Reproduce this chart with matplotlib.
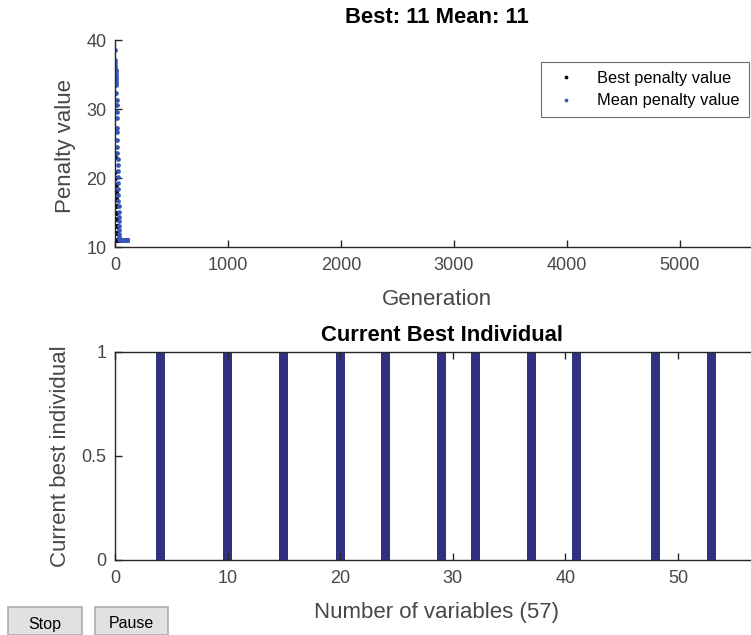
import matplotlib.pyplot as plt
from matplotlib.patches import Rectangle

plt.rcParams['font.family'] = ['Liberation Sans', 'DejaVu Sans']

# Penalty values per generation (best and population mean)
generations = list(range(0, 111))
best_penalty = [
    23.0, 20.9, 20.0, 20.0, 19.0, 19.0, 18.0, 18.0, 17.0, 17.0,
    16.0, 16.0, 15.0, 15.0, 14.0, 14.0, 13.0, 13.0, 13.0, 12.0,
    12.0, 12.0, 11.0, 11.0, 11.0, 11.0, 11.0, 11.0, 11.0, 11.0,
    11.0, 11.0, 11.0, 11.0, 11.0, 11.0, 11.0, 11.0, 11.0, 11.0,
    11.0, 11.0, 11.0, 11.0, 11.0, 11.0, 11.0, 11.0, 11.0, 11.0,
    11.0, 11.0, 11.0, 11.0, 11.0, 11.0, 11.0, 11.0, 11.0, 11.0,
    11.0, 11.0, 11.0, 11.0, 11.0, 11.0, 11.0, 11.0, 11.0, 11.0,
    11.0, 11.0, 11.0, 11.0, 11.0, 11.0, 11.0, 11.0, 11.0, 11.0,
    11.0, 11.0, 11.0, 11.0, 11.0, 11.0, 11.0, 11.0, 11.0, 11.0,
    11.0, 11.0, 11.0, 11.0, 11.0, 11.0, 11.0, 11.0, 11.0, 11.0,
    11.0, 11.0, 11.0, 11.0, 11.0, 11.0, 11.0, 11.0, 11.0, 11.0,
    11.0,
]
mean_penalty = [
    38.5, 37.1, 36.6, 36.2, 35.9, 35.6, 35.3, 35.0, 34.6, 34.3,
    34.0, 33.7, 33.5, 32.3, 31.3, 30.6, 29.6, 28.7, 27.2, 26.7,
    25.5, 24.5, 23.6, 22.7, 21.9, 21.0, 20.1, 19.3, 18.4, 17.6,
    16.7, 15.9, 15.1, 14.4, 13.7, 13.0, 12.4, 11.9, 11.5, 11.2,
    11.1, 11.0, 11.0, 11.0, 11.0, 11.0, 11.0, 11.0, 11.0, 11.0,
    11.0, 11.0, 11.0, 11.0, 11.0, 11.0, 11.0, 11.0, 11.0, 11.0,
    11.0, 11.0, 11.0, 11.0, 11.0, 11.0, 11.0, 11.0, 11.0, 11.0,
    11.0, 11.0, 11.0, 11.0, 11.0, 11.0, 11.0, 11.0, 11.0, 11.0,
    11.0, 11.0, 11.0, 11.0, 11.0, 11.0, 11.0, 11.0, 11.0, 11.0,
    11.0, 11.0, 11.0, 11.0, 11.0, 11.0, 11.0, 11.0, 11.0, 11.0,
    11.0, 11.0, 11.0, 11.0, 11.0, 11.0, 11.0, 11.0, 11.0, 11.0,
    11.0,
]

# Current best individual (57 binary variables)
variables = list(range(1, 58))
best_individual = [
    0, 0, 0, 1, 0, 0, 0, 0, 0, 1,
    0, 0, 0, 0, 1, 0, 0, 0, 0, 1,
    0, 0, 0, 1, 0, 0, 0, 0, 1, 0,
    0, 1, 0, 0, 0, 0, 1, 0, 0, 0,
    1, 0, 0, 0, 0, 0, 0, 1, 0, 0,
    0, 0, 1, 0, 0, 0, 0,
]

W, H = 751, 635
fig = plt.figure(figsize=(W / 100, H / 100), dpi=100)

dark = '#262626'
gray = '#474747'
tick_fs = 13
label_fs = 16
title_fs = 15.8

def px_axes(left, top, right, bottom):
    return fig.add_axes([left / W, 1 - bottom / H, (right - left) / W, (bottom - top) / H])

# --- top: penalty value vs generation ---
ax1 = px_axes(115, 40, 759, 247)
ax1.plot(generations, best_penalty, 'o', color='black', markersize=3.4,
         markeredgewidth=0, label='Best penalty value')
ax1.plot(generations, mean_penalty, 'o', color='#3557bd', markersize=3.4,
         markeredgewidth=0, label='Mean penalty value')
ax1.set_xlim(0, 5700)
ax1.set_ylim(10, 40)
ax1.set_xticks([0, 1000, 2000, 3000, 4000, 5000])
ax1.set_yticks([10, 20, 30, 40])
ax1.spines['top'].set_visible(False)
ax1.spines['right'].set_visible(False)
ax1.set_title('Best: 11 Mean: 11', fontsize=title_fs, fontweight='bold',
              color='black', pad=12)
ax1.set_xlabel('Generation', fontsize=label_fs, color=gray)
ax1.set_ylabel('Penalty value', fontsize=label_fs, color=gray)
ax1.xaxis.set_label_coords(0.5, -0.205)
ax1.yaxis.set_label_coords(-0.060, 0.49)
leg = ax1.legend(loc='upper right', bbox_to_anchor=(749 / W, 1 - 62 / H),
                 bbox_transform=fig.transFigure, borderaxespad=0,
                 fontsize=11.8, frameon=True, fancybox=False, markerscale=0.8,
                 handlelength=2.0, handletextpad=0.9, borderpad=0.55,
                 labelspacing=0.45)
leg.get_frame().set_edgecolor(gray)
leg.get_frame().set_linewidth(0.8)

# --- bottom: current best individual ---
ax2 = px_axes(115, 352, 768, 560)
ax2.bar(variables, best_individual, width=0.8, color='#32317f')
ax2.set_xlim(0, 58)
ax2.set_ylim(0, 1)
ax2.set_xticks([0, 10, 20, 30, 40, 50])
ax2.set_yticks([0, 0.5, 1])
ax2.set_yticklabels(['0', '0.5', '1'])
ax2.set_title('Current Best Individual', fontsize=title_fs, fontweight='bold',
              color='black', pad=8)
ax2.set_xlabel('Number of variables (57)', fontsize=label_fs, color=gray)
ax2.set_ylabel('Current best individual', fontsize=label_fs, color=gray)
ax2.xaxis.set_label_coords(0.493, -0.2)
ax2.yaxis.set_label_coords(-0.067, 0.5)
ax2.tick_params(top=True, right=True)

for ax in (ax1, ax2):
    ax.tick_params(direction='in', length=5, width=1.0, colors=dark,
                   labelcolor=gray, labelsize=tick_fs)
    ax.tick_params(axis='x', pad=7)
    ax.tick_params(axis='y', pad=6)
    for s in ax.spines.values():
        s.set_color(dark)
        s.set_linewidth(1.0)

# --- Stop / Pause buttons ---
for x0, x1, txt in [(8, 82, 'Stop'), (95, 168, 'Pause')]:
    fig.patches.append(Rectangle((x0 / W, 0), (x1 - x0) / W, (H - 607) / H,
                                 transform=fig.transFigure, facecolor='#e1e1e1',
                                 edgecolor='#adadad', linewidth=1.2))
    fig.text((x0 + x1) / 2 / W, 1 - 624 / H, txt, ha='center', va='center',
             fontsize=11.5, color='black')

fig.savefig('out.png', dpi=100)
